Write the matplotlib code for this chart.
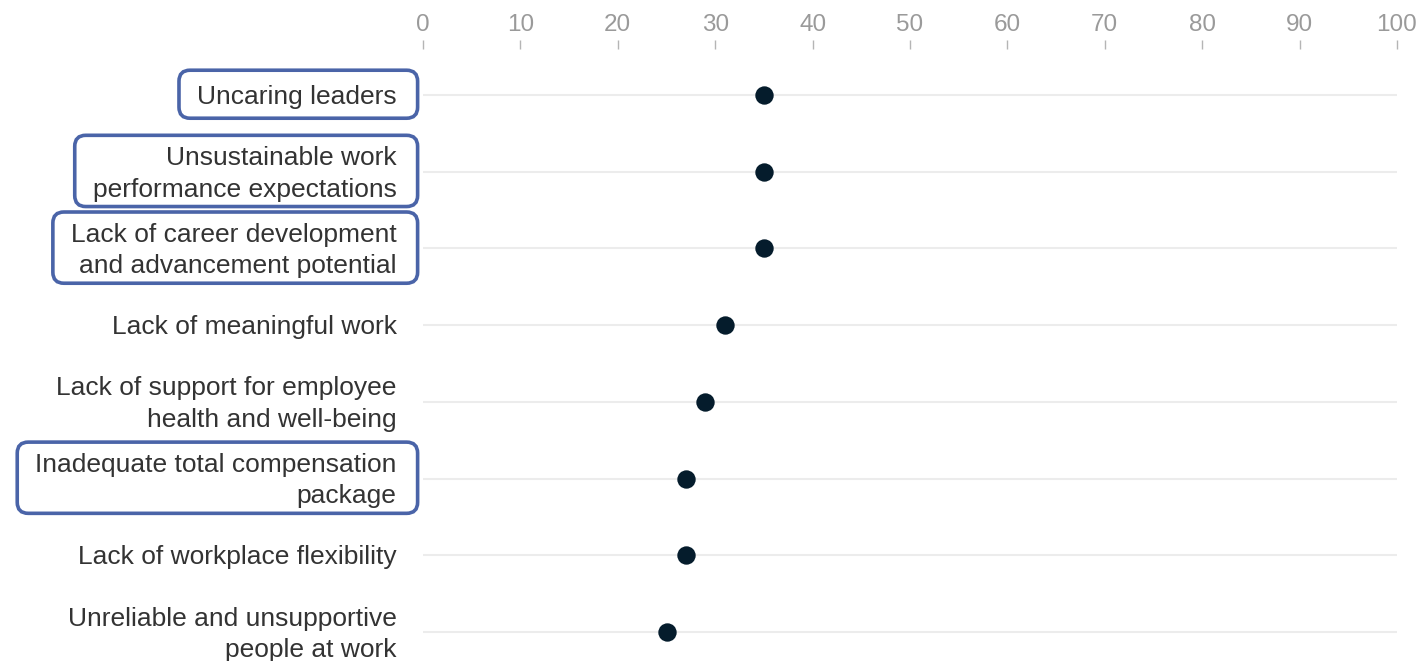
import numpy as np
import matplotlib
matplotlib.use("Agg")
from matplotlib import pyplot as plt
from matplotlib.patches import FancyBboxPatch

# data
labels = [
    "Uncaring leaders",
    "Unsustainable work\nperformance expectations",
    "Lack of career development\nand advancement potential",
    "Lack of meaningful work",
    "Lack of support for employee\nhealth and well-being",
    "Inadequate total compensation\npackage",
    "Lack of workplace flexibility",
    "Unreliable and unsupportive\npeople at work",
]
values = [35, 35, 35, 31, 29, 27, 27, 25]
boxed = [0, 1, 2, 5]
xticks = list(range(0, 101, 10))

plt.rcParams['font.family'] = ['Liberation Sans', 'DejaVu Sans']

fig = plt.figure(figsize=(14.25, 6.61), dpi=100)
W, H = 1425, 661
# rows sit at 95px + 76.7px per row
y_top, y_bot = -0.6, 7.4
px_top = 95 + 76.7 * y_top
px_bot = 95 + 76.7 * y_bot
ax = fig.add_axes([423 / W, 1 - px_bot / H, (1397 - 423) / W, (px_bot - px_top) / H])

ypos = np.arange(len(labels))
for y in ypos:
    ax.plot([0, 100], [y, y], color='#ececec', lw=1.5, zorder=1, solid_capstyle='butt')
ax.scatter(values, ypos, s=175, color='#051c2c', zorder=3, linewidths=0)

ax.set_xlim(0, 100)
ax.set_ylim(y_bot, y_top)
ax.xaxis.set_ticks_position('top')
ax.set_xticks(xticks)
ax.set_xticklabels([str(t) for t in xticks], fontsize=17.5, color='#9a9a9a')
ax.tick_params(axis='x', direction='out', length=6.5, width=1, color='#b5b5b5', pad=2.5)
ax.set_yticks([])

for s in ax.spines.values():
    s.set_visible(False)

# category labels, right aligned left of the plot
texts = []
for i, lab in enumerate(labels):
    t = ax.annotate(lab, xy=(0, ypos[i]), xycoords=('axes fraction', 'data'),
                    xytext=(-19, -1.6), textcoords='offset points',
                    ha='right', va='center', fontsize=19, color='#333333',
                    linespacing=1.38)
    texts.append(t)

# hand-drawn style highlight boxes around some labels
fig.canvas.draw()
r = fig.canvas.get_renderer()
for i in boxed:
    bb = texts[i].get_window_extent(r)
    padl, padr = 18, 21
    pady = 11 if '\n' not in labels[i] else 7
    padt, padb = pady + 4, pady - 2
    box = FancyBboxPatch((bb.x0 - padl, bb.y0 - padb), bb.width + padl + padr,
                         bb.height + padt + padb,
                         boxstyle='round,pad=0,rounding_size=11',
                         fc='none', ec='#4a64a8', lw=2.6, transform=None)
    fig.add_artist(box)

fig.savefig('out.png', dpi=100, facecolor='white')
